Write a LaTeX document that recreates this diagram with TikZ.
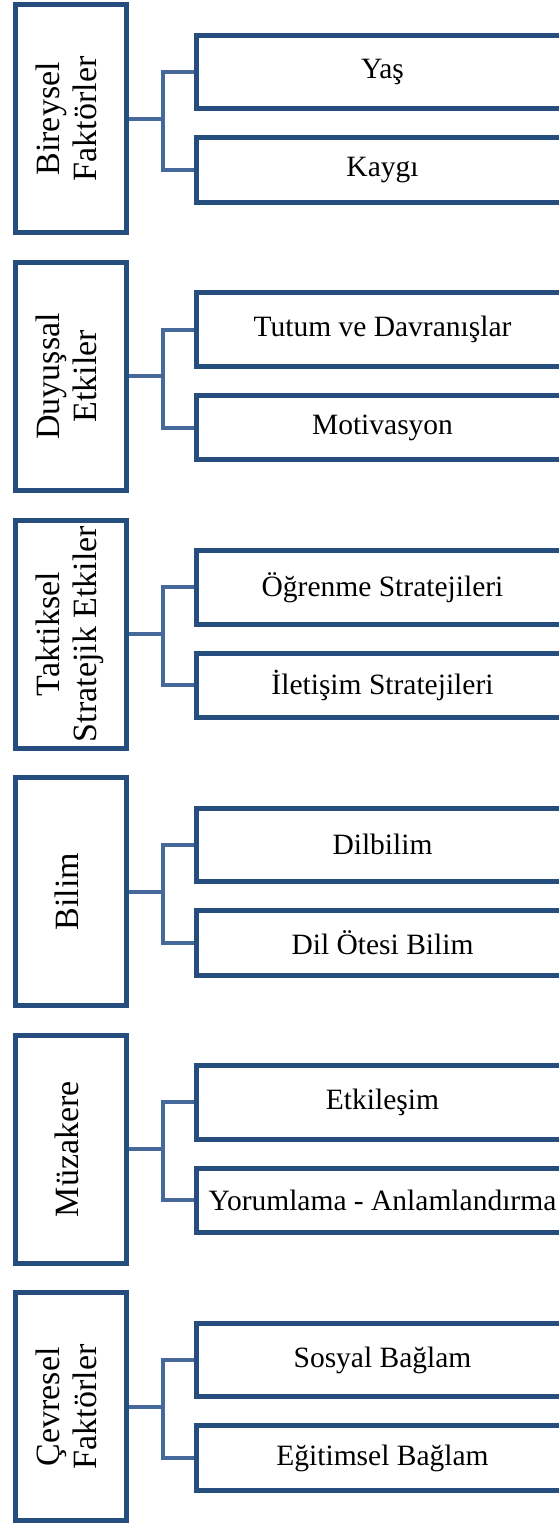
\documentclass[tikz,border=0pt]{standalone}
\usepackage{fontspec}
\setmainfont{Liberation Serif}
\definecolor{boxblue}{HTML}{254E7E}
\definecolor{linkblue}{HTML}{44699A}
\begin{document}
\begin{tikzpicture}[x=1pt,y=-1pt,
  mainbox/.style={draw=boxblue,line width=5pt,fill=white,rectangle,minimum width=111pt,minimum height=228pt,inner sep=0pt,
    font=\fontsize{34}{37.5}\selectfont},
  subbox/.style={draw=boxblue,line width=5pt,fill=white,rectangle,minimum width=372pt,inner sep=0pt,
    font=\fontsize{29.5}{35.5}\selectfont},
  conn/.style={draw=linkblue,line width=4pt}]
\useasboundingbox (0,0) rectangle (559,1523);
\fill[white] (0,0) rectangle (559,1523);
\foreach \i/\a/\b/\c in {0/{Bireysel\\Faktörler}/Yaş/Kaygı,
  1/{Duyuşsal\\Etkiler}/Tutum ve Davranışlar/Motivasyon,
  2/{Taktiksel\\Stratejik Etkiler}/Öğrenme Stratejileri/İletişim Stratejileri,
  3/{Bilim}/Dilbilim/Dil Ötesi Bilim,
  4/{Müzakere}/Etkileşim/Yorumlama - Anlamlandırma,
  5/{Çevresel\\Faktörler}/Sosyal Bağlam/Eğitimsel Bağlam}{
  \pgfmathsetmacro\g{4.8+257.6*\i}
  \node[mainbox] (L\i) at (70.5,\g+114) {\rotatebox{90}{\begin{tabular}{@{}c@{}}\a\end{tabular}}};
  \node[subbox,minimum height=73.5pt] (A\i) at (382.5,\g+67.25) {\b};
  \node[subbox,minimum height=64.5pt] (B\i) at (382.5,\g+165.25) {\c};
  \coordinate (J\i) at (163,\g+114);
  \draw[conn] (L\i.east) -- (J\i);
  \draw[conn] (A\i.west) -| (J\i) |- (B\i.west);
}
\end{tikzpicture}
\end{document}
